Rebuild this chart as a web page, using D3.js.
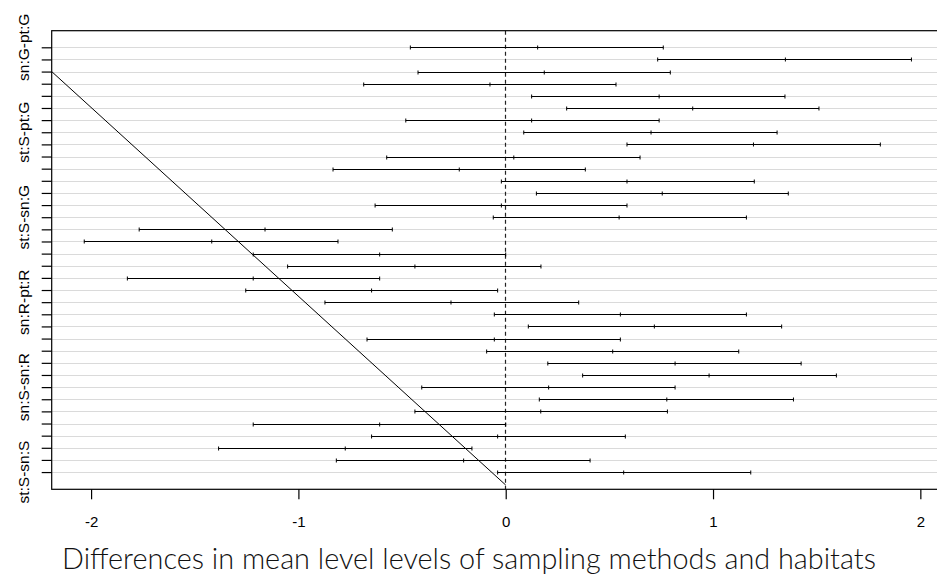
<!DOCTYPE html>
<html>
<head>
<meta charset="utf-8">
<script src="https://cdn.jsdelivr.net/npm/d3@7"></script>
<style>
  html, body { margin: 0; padding: 0; background: #ffffff; }
  svg { display: block; }
</style>
</head>
<body>
<svg id="chart" width="937" height="581"></svg>
<script>
// ---- Data (TukeyHSD-style comparisons, top to bottom) ----
const comparisons = [
  "sn:G-pt:G","st:G-pt:G","pt:R-pt:G","sn:R-pt:G","st:R-pt:G","pt:S-pt:G","sn:S-pt:G","st:S-pt:G",
  "st:G-sn:G","pt:R-sn:G","sn:R-sn:G","st:R-sn:G","pt:S-sn:G","sn:S-sn:G","st:S-sn:G",
  "pt:R-st:G","sn:R-st:G","st:R-st:G","pt:S-st:G","sn:S-st:G","st:S-st:G",
  "sn:R-pt:R","st:R-pt:R","pt:S-pt:R","sn:S-pt:R","st:S-pt:R",
  "st:R-sn:R","pt:S-sn:R","sn:S-sn:R","st:S-sn:R",
  "pt:S-st:R","sn:S-st:R","st:S-st:R",
  "sn:S-pt:S","st:S-pt:S",
  "st:S-sn:S"
];
const diffs = [0.154,1.349,0.186,-0.076,0.740,0.902,0.125,0.701,1.195,0.039,-0.224,0.585,0.755,-0.021,0.547,
  -1.161,-1.418,-0.608,-0.438,-1.218,-0.647,-0.264,0.553,0.717,-0.055,0.516,0.817,0.981,0.207,0.777,0.169,
  -0.608,-0.039,-0.774,-0.203,0.569];
const lwr = [-0.460,0.733,-0.423,-0.685,0.125,0.294,-0.482,0.087,0.585,-0.574,-0.833,-0.021,0.148,-0.630,-0.060,
  -1.768,-2.033,-1.218,-1.052,-1.825,-1.254,-0.872,-0.055,0.109,-0.669,-0.092,0.203,0.371,-0.405,0.162,-0.438,
  -1.218,-0.647,-1.385,-0.817,-0.039];
const upr = [0.760,1.957,0.794,0.532,1.347,1.511,0.740,1.309,1.807,0.648,0.384,1.199,1.363,0.585,1.161,
  -0.547,-0.809,0.000,0.170,-0.608,-0.039,0.352,1.161,1.331,0.553,1.124,1.425,1.595,0.817,1.388,0.780,
  0.000,0.577,-0.163,0.407,1.182];
const xTicks = [-2, -1, 0, 1, 2];
const diagX = [-2.19, 0];      // extra straight line drawn on the figure
const diagRow = [3.0, 37.07];
const titleText = "Differences in mean level levels of sampling methods and habitats";

(function () {
// ---- Layout ----
const svg = d3.select("#chart");
const pL = 51.7, pR = 939, pT = 30.7, pB = 489.3;
const x = d3.scaleLinear().domain([-2.19, 2.09]).range([pL, pR]);
const y = d3.scaleLinear().domain([-0.368, 37.42]).range([pT, pB]);
const rows = d3.range(1, comparisons.length + 1);
const data = comparisons.map((c, i) => ({name: c, row: i + 1, diff: diffs[i], lwr: lwr[i], upr: upr[i]}));

svg.append("defs").append("clipPath").attr("id", "clip")
  .append("rect").attr("x", pL).attr("y", pT).attr("width", pR - pL).attr("height", pB - pT);

const plot = svg.append("g").attr("clip-path", "url(#clip)");

// grid lines
plot.selectAll("line.grid").data(rows).join("line")
  .attr("class", "grid")
  .attr("x1", pL).attr("x2", pR)
  .attr("y1", d => Math.round(y(d)) + 0.5).attr("y2", d => Math.round(y(d)) + 0.5)
  .attr("stroke", "#dadada").attr("stroke-width", 1);

// zero reference line
plot.append("line")
  .attr("x1", Math.round(x(0)) - 0.5).attr("x2", Math.round(x(0)) - 0.5)
  .attr("y1", pT).attr("y2", pB)
  .attr("stroke", "#222").attr("stroke-width", 1.2).attr("stroke-dasharray", "4,3");

// intervals
const g = plot.selectAll("g.ci").data(data).join("g").attr("class", "ci");
g.append("line")
  .attr("x1", d => x(d.lwr)).attr("x2", d => x(d.upr))
  .attr("y1", d => Math.round(y(d.row)) + 0.5).attr("y2", d => Math.round(y(d.row)) + 0.5)
  .attr("stroke", "#000").attr("stroke-width", 1);
["lwr", "diff", "upr"].forEach(k => {
  g.append("line")
    .attr("x1", d => x(d[k])).attr("x2", d => x(d[k]))
    .attr("y1", d => Math.round(y(d.row)) + 0.5 - 2).attr("y2", d => Math.round(y(d.row)) + 0.5 + 2)
    .attr("stroke", "#000").attr("stroke-width", 1);
});

// diagonal line
plot.append("line")
  .attr("x1", x(diagX[0])).attr("y1", y(diagRow[0]))
  .attr("x2", x(diagX[1])).attr("y2", y(diagRow[1]))
  .attr("stroke", "#000").attr("stroke-width", 1);

// box
svg.append("rect").attr("x", pL).attr("y", pT).attr("width", pR - pL).attr("height", pB - pT)
  .attr("fill", "none").attr("stroke", "#000").attr("stroke-width", 1.2);

// x axis
const xAxis = svg.append("g").attr("transform", `translate(0,${pB})`)
  .call(d3.axisBottom(x).tickValues(xTicks).tickSize(10).tickPadding(17).tickFormat(d => String(d)));
xAxis.select(".domain").remove();
xAxis.selectAll("line").attr("stroke", "#000").attr("stroke-width", 1.2);
xAxis.selectAll("text").attr("font-family", "'Liberation Sans', Arial, sans-serif")
  .attr("font-size", "15px").attr("fill", "#000");

// y axis (ticks)
const yAxis = svg.append("g").attr("transform", `translate(${pL},0)`)
  .call(d3.axisLeft(y).tickValues(rows).tickSize(10).tickFormat(""));
yAxis.select(".domain").remove();
yAxis.selectAll("line").attr("stroke", "#000").attr("stroke-width", 1.2);

// y labels with overlap skipping (like R)
const labG = svg.append("g");
let lastEnd = -Infinity;
const fs = 15.5;
data.forEach(d => {
  const t = labG.append("text")
    .attr("transform", `translate(29,${y(d.row)}) rotate(-90)`)
    .attr("text-anchor", "middle")
    .attr("font-family", "'Liberation Sans', Arial, sans-serif")
    .attr("font-size", fs + "px").attr("fill", "#000")
    .text(d.name);
  const len = t.node().getComputedTextLength();
  const startY = y(d.row) - len / 2;
  if (startY < lastEnd + fs) { t.remove(); }
  else { lastEnd = y(d.row) + len / 2; }
});

// title
const title = svg.append("text")
  .attr("x", 469).attr("y", 569)
  .attr("text-anchor", "middle")
  .attr("font-family", "Lato, 'Open Sans', sans-serif")
  .attr("font-weight", 300)
  .attr("font-size", "24px").attr("fill", "#111")
  .text(titleText);
const w = title.node().getComputedTextLength();
title.attr("font-size", (24 * 814 / w).toFixed(2) + "px");
})();
</script>
</body>
</html>
